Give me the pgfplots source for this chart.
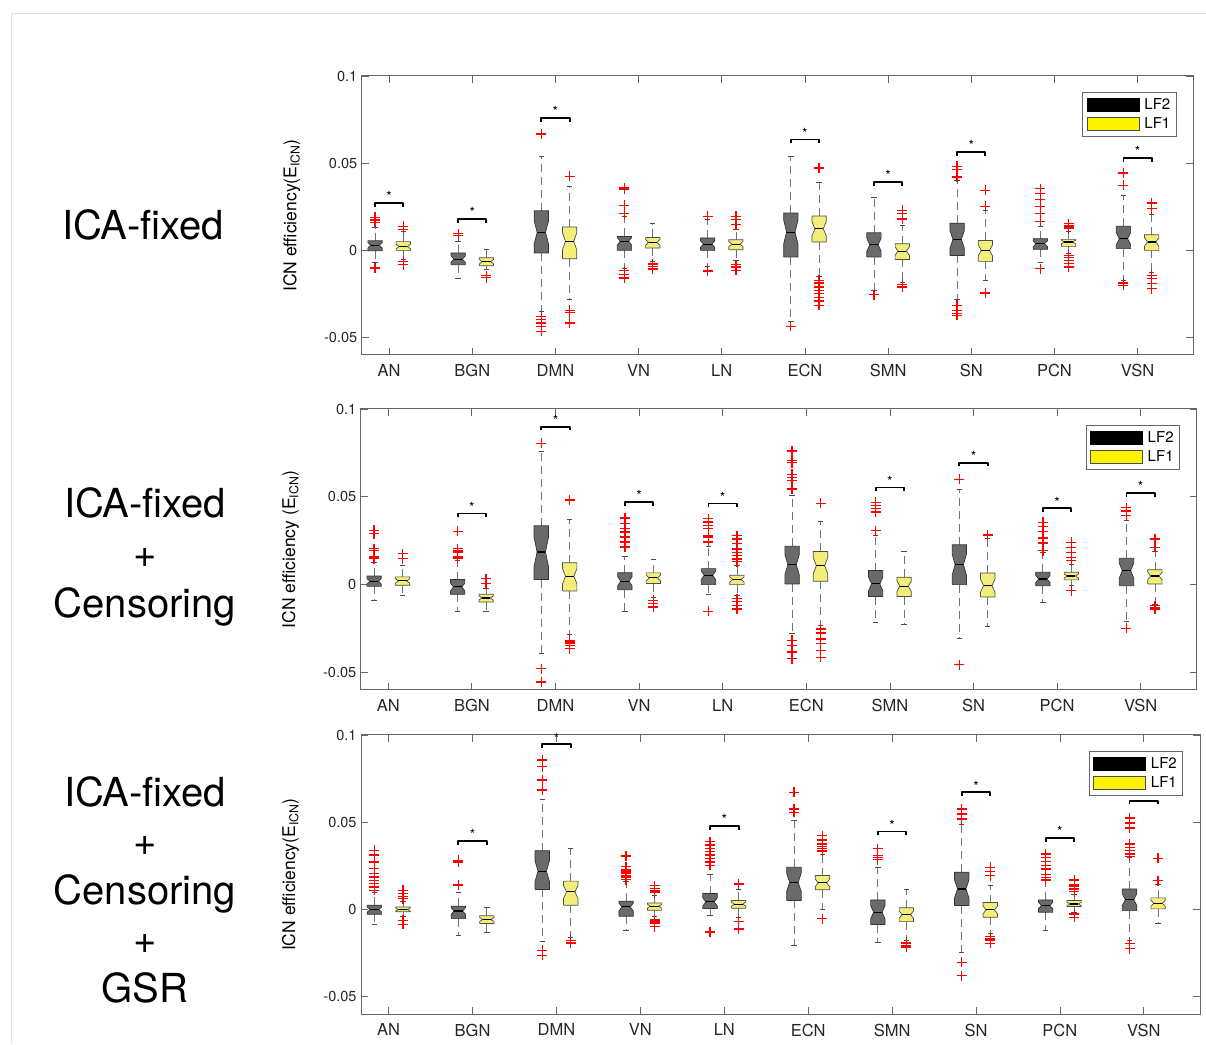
\documentclass[border=0pt]{standalone}
\usepackage{pgfplots}
\pgfplotsset{compat=1.18}
\usepackage{fontspec}
\setmainfont{TeX Gyre Heros}
\definecolor{lftwo}{HTML}{6A6A6A}
\definecolor{lfone}{HTML}{F2EE78}
\pgfplotsset{
  whisk/.style={draw=black!55, line width=0.8pt, dash pattern=on 8pt off 5pt, forget plot},
  wcap/.style={draw=black!70, line width=0.8pt, solid, forget plot},
  lfa/.style={draw=black!80, fill=lftwo, line width=0.7pt, forget plot},
  lfb/.style={draw=black!70, fill=lfone, line width=0.7pt, forget plot},
  legend image code/.code={\draw[#1, line width=0.6pt] (0pt,-6.5pt) rectangle (52pt,6.5pt);},
  panel/.style={
    scale only axis,
    xmin=0.67, xmax=10.67, ymin=-0.06, ymax=0.1,
    xtick={1,...,10}, xticklabels={AN,BGN,DMN,VN,LN,ECN,SMN,SN,PCN,VSN},
    ytick={-0.05,0,0.05,0.1}, yticklabels={-0.05,0,0.05,0.1},
    tick align=inside, major tick length=7pt,
    tick style={black!60, line width=0.8pt},
    axis line style={black!60, line width=1pt},
    x tick label style={font=\fontsize{16.5}{18}\selectfont, text=black!85, yshift=-6pt},
    y tick label style={font=\fontsize{14.5}{16}\selectfont, text=black!85, xshift=-1pt},
    ylabel style={at={(axis description cs:-0.084,0.5)}, anchor=center, font=\fontsize{17.5}{20}\selectfont},
    clip=false,
    legend cell align=left,
    legend style={at={(0.98,0.943)}, anchor=north east, draw=black!60, line width=0.8pt,
      fill=white, font=\fontsize{15}{17}\selectfont, inner xsep=4pt, inner ysep=4pt,
      row sep=3pt, /tikz/every odd column/.append style={column sep=3pt}},
  }
}
% box: position, lower whisker, lower quartile, median, upper quartile, upper whisker, style
\newcommand\bxn[7]{%
  \pgfmathsetmacro\bxXL{#1-0.086}\pgfmathsetmacro\bxXR{#1+0.086}%
  \pgfmathsetmacro\bxIL{#1-0.05}\pgfmathsetmacro\bxIR{#1+0.05}%
  \pgfmathsetmacro\bxCL{#1-0.0325}\pgfmathsetmacro\bxCR{#1+0.0325}%
  \pgfmathsetmacro\bxNA{max((#3),(#4)-0.27*((#5)-(#3)))}%
  \pgfmathsetmacro\bxNB{min((#5),(#4)+0.27*((#5)-(#3)))}%
  \addplot[whisk] coordinates {(#1,#5) (#1,#6)};
  \addplot[whisk] coordinates {(#1,#3) (#1,#2)};
  \addplot[wcap] coordinates {(\bxCL,#6) (\bxCR,#6)};
  \addplot[wcap] coordinates {(\bxCL,#2) (\bxCR,#2)};
  \addplot[#7] coordinates {(\bxXL,#3) (\bxXL,\bxNA) (\bxIL,#4) (\bxXL,\bxNB) (\bxXL,#5) (\bxXR,#5) (\bxXR,\bxNB) (\bxIR,#4) (\bxXR,\bxNA) (\bxXR,#3) (\bxXL,#3)};
  \addplot[black, line width=1.1pt, forget plot] coordinates {(\bxIL,#4) (\bxIR,#4)};
}
% with outliers (8th argument, rows separated by \\)
\newcommand\bx[8]{%
  \bxn{#1}{#2}{#3}{#4}{#5}{#6}{#7}%
  \addplot[only marks, forget plot, mark=+, mark size=5pt, mark options={draw=red, line width=1.3pt, solid}]
    table[row sep=\\, x expr=#1, y index=0] {v\\ #8};
}
\newcommand\sig[2]{%
  \addplot[black, line width=1.9pt, line join=round, forget plot]
    table[row sep=\\, x expr=#1+\thisrowno{0}, y expr=#2+\thisrowno{1}]
    {dx dy\\ -0.17 -0.0022\\ -0.17 0\\ 0.17 0\\ 0.17 -0.0022\\};
  \node[anchor=south, inner sep=1pt, font=\fontsize{14}{14}\selectfont] at (axis cs:#1,#2) {*};}
\newcommand\leg{%
  \addlegendimage{draw=black, fill=black}\addlegendentry{LF2}
  \addlegendimage{draw=black!70, fill=yellow}\addlegendentry{LF1}}
\begin{document}
\begin{tikzpicture}
\useasboundingbox (0,0) rectangle (1206pt,1044pt);
\draw[black!12, line width=1pt] (11.5pt,0) -- (11.5pt,1030pt) -- (1206pt,1030pt);
\node[align=center, font=\fontsize{40}{50}\selectfont] at (143pt,819pt) {ICA-fixed};
\node[align=center, font=\fontsize{40}{50}\selectfont] at (145pt,487pt) {ICA-fixed\\+\\Censoring};
\node[align=center, font=\fontsize{40}{49}\selectfont] at (145pt,154pt) {ICA-fixed\\+\\Censoring\\+\\GSR};

% ---------------- top: ICA-fixed
\begin{axis}[panel, at={(361.7pt,689pt)}, anchor=south west, width=831.6pt, height=279pt,
  ylabel={ICN efficiency(E\textsubscript{ICN})}]
\bx{0.83}{-0.007}{-0.0002}{0.0029}{0.0055}{0.013}{lfa}{0.019\\ 0.0175\\ 0.016\\ -0.0101\\}
\bx{1.17}{-0.005}{0}{0.0022}{0.005}{0.011}{lfb}{0.0137\\ 0.012\\ -0.0063\\ -0.0082\\}
\bx{1.83}{-0.0158}{-0.0082}{-0.005}{-0.0015}{0.005}{lfa}{0.0095\\ 0.0085\\}
\bx{2.17}{-0.011}{-0.0088}{-0.0065}{-0.0042}{0.0004}{lfb}{-0.0145\\ -0.0157\\}
\bx{2.83}{-0.0349}{-0.0015}{0.0103}{0.0227}{0.0538}{lfa}{0.0668\\ -0.0378\\ -0.0397\\ -0.0416\\ -0.0435\\ -0.0464\\}
\bx{3.17}{-0.0282}{-0.0048}{0.0052}{0.0134}{0.0366}{lfb}{0.0424\\ -0.0344\\ -0.0358\\ -0.0416\\}
\bx{3.83}{-0.0101}{0}{0.0052}{0.008}{0.0195}{lfa}{0.0357\\ 0.035\\ 0.0258\\ 0.021\\ -0.0116\\ -0.0139\\ -0.0158\\}
\bx{4.17}{-0.0063}{0.0013}{0.0046}{0.0074}{0.0153}{lfb}{-0.0078\\ -0.0092\\ -0.0107\\}
\bx{4.83}{-0.009}{0}{0.0036}{0.0071}{0.018}{lfa}{0.0195\\ -0.0115\\ -0.012\\}
\bx{5.17}{-0.006}{0.0004}{0.0036}{0.0061}{0.012}{lfb}{0.0195\\ 0.0176\\ 0.0147\\ -0.0082\\ -0.0095\\ -0.0115\\}
\bx{5.83}{-0.041}{-0.0038}{0.0105}{0.0214}{0.054}{lfa}{-0.0435\\}
\bx{6.17}{-0.0149}{0.0048}{0.0124}{0.0197}{0.0391}{lfb}{0.0473\\ -0.0172\\ -0.0187\\ -0.021\\ -0.0229\\ -0.0248\\ -0.0271\\ -0.029\\ -0.0315\\}
\bx{6.83}{-0.0229}{-0.0038}{0.0032}{0.0101}{0.0305}{lfa}{-0.0254\\}
\bx{7.17}{-0.0181}{-0.0052}{-0.0004}{0.0038}{0.0143}{lfb}{0.0229\\ 0.021\\ 0.018\\ -0.0195\\ -0.021\\}
\bx{7.83}{-0.0282}{-0.0029}{0.0063}{0.0156}{0.04}{lfa}{0.0481\\ 0.0462\\ 0.042\\ -0.0315\\ -0.0344\\ -0.0363\\ -0.0372\\}
\bx{8.17}{-0.017}{-0.0063}{0}{0.0057}{0.0229}{lfb}{0.0344\\ 0.0252\\ -0.0244\\}
\bx{8.83}{-0.0067}{0.0006}{0.0038}{0.0067}{0.014}{lfa}{0.0353\\ 0.0328\\ 0.029\\ 0.0252\\ 0.021\\ 0.0166\\ -0.0105\\}
\bx{9.17}{-0.0019}{0.0023}{0.0048}{0.0063}{0.011}{lfb}{0.0153\\ 0.0143\\ 0.0134\\ 0.0124\\ -0.0029\\ -0.0042\\ -0.0057\\ -0.0076\\ -0.0095\\}
\bx{9.83}{-0.0172}{0.001}{0.0067}{0.0139}{0.0315}{lfa}{0.0443\\ 0.0372\\ -0.0187\\ -0.02\\}
\bx{10.17}{-0.0124}{0}{0.0048}{0.009}{0.0206}{lfb}{0.0271\\ 0.0239\\ -0.0143\\ -0.0162\\ -0.0191\\ -0.0219\\}
\sig{1}{0.0271}\sig{2}{0.0181}\sig{3}{0.0758}\sig{6}{0.0636}\sig{7}{0.0391}\sig{8}{0.0563}\sig{10}{0.0531}
\leg
\end{axis}

% ---------------- middle: ICA-fixed + Censoring
\begin{axis}[panel, at={(360.7pt,354pt)}, anchor=south west, width=836pt, height=281pt,
  ylabel={ICN efficiency (E\textsubscript{ICN})}]
\bx{0.83}{-0.0089}{-0.001}{0.0019}{0.0049}{0.0129}{lfa}{0.031\\ 0.0291\\ 0.0205\\ 0.0196\\ 0.0158\\ 0.0148\\}
\bx{1.17}{-0.0061}{-0.0004}{0.0021}{0.0044}{0.011}{lfb}{0.0177\\ 0.0148\\}
\bx{1.83}{-0.0152}{-0.0055}{-0.0013}{0.0029}{0.0139}{lfa}{0.0304\\ 0.0205\\ 0.0196\\ 0.0186\\ 0.0158\\ 0.0148\\}
\bx{2.17}{-0.0152}{-0.0099}{-0.0076}{-0.0055}{-0.0023}{lfb}{0.0034\\ 0.0006\\}
\bx{2.83}{-0.0394}{0.0029}{0.0186}{0.0335}{0.0757}{lfa}{0.0804\\ -0.0479\\ -0.0555\\}
\bx{3.17}{-0.0285}{-0.0036}{0.0048}{0.0125}{0.0373}{lfb}{0.0481\\ -0.0317\\ -0.0327\\ -0.0337\\ -0.0346\\ -0.0365\\}
\bx{3.83}{-0.0152}{-0.0029}{0.0019}{0.0068}{0.0158}{lfa}{0.038\\ 0.0348\\ 0.0319\\ 0.03\\ 0.0272\\ 0.0243\\ 0.0215\\}
\bx{4.17}{-0.007}{0.0006}{0.0038}{0.0067}{0.0144}{lfb}{-0.0089\\ -0.0108\\ -0.0127\\}
\bx{4.83}{-0.0055}{0}{0.0053}{0.0091}{0.0215}{lfa}{0.0376\\ 0.0357\\ 0.0338\\ 0.0319\\ 0.0281\\ 0.0272\\ 0.0243\\ -0.0152\\}
\bx{5.17}{-0.0063}{0}{0.0029}{0.0053}{0.011}{lfb}{0.0278\\ 0.026\\ 0.0233\\ 0.0203\\ 0.0184\\ 0.0165\\ 0.0146\\ 0.0131\\ -0.0081\\ -0.0097\\ -0.0119\\ -0.0138\\}
\bx{5.83}{-0.028}{0.0004}{0.0114}{0.0218}{0.0506}{lfa}{0.0761\\ 0.0705\\ 0.0695\\ 0.0629\\ 0.061\\ 0.0591\\ 0.0544\\ -0.0318\\ -0.0347\\ -0.0384\\ -0.0422\\}
\bx{6.17}{-0.0233}{0.0019}{0.0108}{0.0189}{0.0358}{lfb}{0.0462\\ -0.0252\\ -0.0275\\ -0.0309\\ -0.0337\\ -0.0375\\ -0.0413\\}
\bx{6.83}{-0.0214}{-0.0068}{0.0004}{0.008}{0.028}{lfa}{0.0468\\ 0.0449\\ 0.0432\\ 0.0413\\ 0.0307\\}
\bxn{7.17}{-0.0229}{-0.0068}{-0.0009}{0.0042}{0.0188}{lfb}
\bx{7.83}{-0.0309}{0}{0.0114}{0.0227}{0.0544}{lfa}{0.06\\ -0.0456\\}
\bx{8.17}{-0.0239}{-0.007}{-0.0006}{0.0066}{0.0263}{lfb}{0.0282\\}
\bx{8.83}{-0.0104}{-0.0006}{0.0032}{0.007}{0.0186}{lfa}{0.0354\\ 0.0331\\ 0.0303\\ 0.0265\\ 0.0237\\ 0.0193\\}
\bx{9.17}{-0.0006}{0.0027}{0.0049}{0.007}{0.0117}{lfb}{0.0241\\ 0.0212\\ 0.0184\\ 0.0155\\ 0.0136\\ -0.0034\\}
\bx{9.83}{-0.021}{-0.0006}{0.008}{0.015}{0.0364}{lfa}{0.0439\\ 0.042\\ 0.0392\\ -0.0248\\}
\bx{10.17}{-0.011}{0.0004}{0.0049}{0.0085}{0.019}{lfb}{0.0259\\ 0.0212\\ -0.0119\\ -0.0129\\ -0.0138\\}
\sig{2}{0.0405}\sig{3}{0.09}\sig{4}{0.0471}\sig{5}{0.0462}\sig{7}{0.0553}\sig{8}{0.0695}\sig{9}{0.0434}\sig{10}{0.0521}
\leg
\end{axis}

% ---------------- bottom: ICA-fixed + Censoring + GSR
\begin{axis}[panel, at={(361pt,29.7pt)}, anchor=south west, width=839pt, height=279.3pt,
  ylabel={ICN efficiency(E\textsubscript{ICN})}]
\bx{0.83}{-0.0084}{-0.0027}{0}{0.0025}{0.0101}{lfa}{0.034\\ 0.0312\\ 0.0273\\ 0.0235\\ 0.0206\\ 0.0187\\ 0.0168\\ 0.0149\\ 0.013\\ 0.0111\\}
\bx{1.17}{-0.0042}{-0.0013}{0}{0.0015}{0.0044}{lfb}{0.0111\\ 0.0092\\ 0.0073\\ 0.0063\\ -0.0061\\ -0.0084\\}
\bx{1.83}{-0.0147}{-0.0052}{-0.0008}{0.0019}{0.0101}{lfa}{0.0283\\ 0.0273\\ 0.014\\}
\bxn{2.17}{-0.0132}{-0.008}{-0.0057}{-0.0036}{0.0015}{lfb}
\bx{2.83}{-0.0185}{0.0115}{0.022}{0.0337}{0.0631}{lfa}{0.0857\\ 0.0818\\ 0.0742\\ 0.0685\\ -0.0233\\ -0.0262\\}
\bx{3.17}{-0.0157}{0.0025}{0.0101}{0.0163}{0.035}{lfb}{-0.0176\\ -0.0191\\}
\bx{3.83}{-0.0119}{-0.0038}{0.0015}{0.0048}{0.0163}{lfa}{0.0306\\ 0.0245\\ 0.0226\\ 0.0216\\ 0.0206\\ 0.0197\\ 0.0187\\ 0.0172\\}
\bx{4.17}{-0.0042}{-0.0004}{0.0019}{0.0038}{0.0082}{lfb}{0.0136\\ 0.012\\ 0.0107\\ 0.0096\\ -0.0057\\ -0.0065\\ -0.0073\\ -0.008\\ -0.0099\\}
\bx{4.83}{-0.0033}{0.0006}{0.0044}{0.0092}{0.0203}{lfa}{0.0388\\ 0.0369\\ 0.035\\ 0.0331\\ 0.0312\\ 0.0293\\ 0.0273\\ 0.0254\\ -0.0128\\}
\bx{5.17}{-0.0044}{0.0008}{0.0031}{0.0052}{0.0118}{lfb}{0.0147\\ -0.0067\\ -0.0111\\}
\bx{5.83}{-0.0206}{0.0052}{0.0156}{0.0242}{0.051}{lfa}{0.0672\\ 0.0576\\ 0.0557\\}
\bx{6.17}{0}{0.0113}{0.0153}{0.0195}{0.0315}{lfb}{0.0424\\ 0.0399\\ 0.0376\\ 0.0363\\ 0.0349\\ 0.0336\\ -0.0053\\}
\bx{6.83}{-0.0187}{-0.0086}{-0.0015}{0.0055}{0.024}{lfa}{0.0349\\ 0.0311\\ 0.0298\\ 0.0286\\}
\bx{7.17}{-0.0177}{-0.0069}{-0.0029}{0.001}{0.0118}{lfb}{-0.0187\\ -0.0196\\ -0.0206\\ -0.0215\\}
\bx{7.83}{-0.0248}{0.0023}{0.0118}{0.0214}{0.0487}{lfa}{0.0576\\ 0.0548\\ 0.0519\\ -0.0302\\ -0.0378\\}
\bx{8.17}{-0.0139}{-0.0044}{-0.0002}{0.004}{0.0137}{lfb}{0.0242\\ 0.0218\\ 0.0195\\ -0.0155\\ -0.0168\\ -0.0177\\ -0.0193\\}
\bx{8.83}{-0.012}{-0.0015}{0.0023}{0.0055}{0.0166}{lfa}{0.0318\\ 0.0298\\ 0.0275\\ 0.0251\\ 0.0233\\ 0.02\\ 0.0185\\ 0.017\\}
\bx{9.17}{-0.0015}{0.0017}{0.0032}{0.0052}{0.0085}{lfb}{0.017\\ 0.0141\\ 0.0132\\ 0.0122\\ 0.0113\\ 0.0103\\ -0.0025\\ -0.0044\\}
\bx{9.83}{-0.0178}{-0.0006}{0.0057}{0.0118}{0.03}{lfa}{0.0525\\ 0.0496\\ 0.0468\\ 0.0376\\ 0.0357\\ 0.0338\\ 0.0319\\ 0.0305\\ -0.0193\\ -0.0225\\}
\bx{10.17}{-0.0078}{0.0004}{0.0036}{0.0067}{0.0147}{lfb}{0.0294\\ 0.0166\\}
\sig{2}{0.0394}\sig{3}{0.0946}\sig{5}{0.0478}\sig{7}{0.0447}\sig{8}{0.0672}\sig{9}{0.041}\sig{10}{0.0624}
\leg
\end{axis}
\end{tikzpicture}
\end{document}
